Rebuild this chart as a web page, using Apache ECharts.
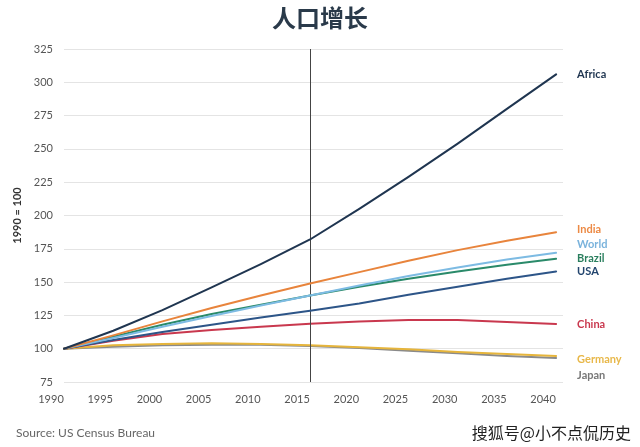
<!DOCTYPE html>
<html>
<head>
<meta charset="utf-8">
<script src="https://cdn.jsdelivr.net/npm/echarts@6/dist/echarts.min.js"></script>
<style>html,body{margin:0;padding:0;background:#fff}#c{width:640px;height:447px}</style>
</head>
<body>
<div id="c"></div>
<script>
const years = [1990, 1995, 2000, 2005, 2010, 2015, 2020, 2025, 2030, 2035, 2040];
const yTicks = [75, 100, 125, 150, 175, 200, 225, 250, 275, 300, 325];
const africa  = [100, 113.5, 129, 146, 163.5, 182, 205, 229, 254, 280, 306];
const india   = [100, 110, 120.5, 130.5, 140, 149, 157.5, 166, 174, 181, 187.5];
const world   = [100, 108, 116.5, 124.5, 132.5, 140, 147.5, 154.5, 161, 167, 172];
const brazil  = [100, 109, 118, 126, 133, 140, 146.5, 152.5, 158, 163, 167.5];
const usa     = [100, 106.5, 112.5, 118, 123.5, 128.5, 134, 140.5, 146.5, 152.5, 158];
const china   = [100, 106, 111, 114, 116.5, 118.8, 120.5, 121.5, 121.5, 120, 118.5];
const germany = [100, 102.5, 103.5, 104, 103.5, 102.5, 101, 99.5, 97.5, 96, 94.5];
const japan   = [100, 101.5, 102.5, 103, 103, 102, 100.5, 98.5, 96.5, 94.5, 93];
const markYear = 2015;

const seriesDefs = [
  {name: 'Japan', data: japan, color: '#8a8a8a', label: '#777777', off: [16, 17]},
  {name: 'Germany', data: germany, color: '#e6b53c', label: '#e8b84a', off: [16, 3]},
  {name: 'China', data: china, color: '#c9384e', label: '#c9384e', off: [16, 0]},
  {name: 'USA', data: usa, color: '#2d5588', label: '#23456e', off: [16, 0]},
  {name: 'Brazil', data: brazil, color: '#2a8a6a', label: '#2a7f5e', off: [16, 0]},
  {name: 'World', data: world, color: '#7dbbe3', label: '#7ab3dc', off: [16, -8]},
  {name: 'India', data: india, color: '#e8843c', label: '#ec8a45', off: [16, -3]},
  {name: 'Africa', data: africa, color: '#1f3550', label: '#1f3550', off: [16, 0]}
];

const chart = echarts.init(document.getElementById('c'), null, {renderer: 'canvas'});
const series = seriesDefs.map((s, i) => ({
  name: s.name,
  type: 'line',
  data: years.map((y, k) => [y, s.data[k]]),
  symbol: 'none',
  smooth: false,
  lineStyle: {color: s.color, width: 2, join: 'round', cap: 'round'},
  itemStyle: {color: s.color},
  z: 2 + i,
  endLabel: {
    show: true,
    formatter: s.name,
    color: s.label,
    fontWeight: 'bold',
    fontSize: 11,
    fontFamily: 'Lato, "Open Sans", sans-serif',
    offset: s.off,
    distance: 5
  },
  markLine: i === 0 ? {
    silent: true,
    symbol: 'none',
    label: {show: false},
    lineStyle: {color: '#444', width: 1, type: 'solid'},
    data: [{xAxis: markYear}]
  } : undefined
}));

chart.setOption({
  animation: false,
  backgroundColor: '#fff',
  title: {
    text: '人口增长',
    left: 'center',
    top: 1,
    textStyle: {fontSize: 24, fontWeight: 'bold', color: '#2a3a4a', fontFamily: '"Noto Sans CJK SC", sans-serif'}
  },
  grid: {left: 64, right: 77, top: 49, bottom: 65, containLabel: false},
  xAxis: {
    type: 'value',
    min: 1990,
    max: 2040.7,
    interval: 5,
    axisLine: {show: false},
    axisTick: {show: false},
    splitLine: {show: false},
    axisLabel: {
      color: '#555',
      fontSize: 11,
      fontFamily: 'Lato, "Open Sans", sans-serif',
      margin: 12,
      formatter: v => (v % 5 === 0 ? String(v) : ''),
      padding: [0, 26, 0, 0]
    }
  },
  yAxis: {
    type: 'value',
    min: 75,
    max: 325,
    interval: 25,
    name: '1990 = 100',
    nameLocation: 'middle',
    nameGap: 26,
    nameRotate: 90,
    nameTextStyle: {color: '#333', fontSize: 11, fontWeight: 'bold', fontFamily: 'Lato, "Open Sans", sans-serif', padding: [0, 0, 8, 0]},
    axisLine: {show: false},
    axisTick: {show: false},
    splitLine: {lineStyle: {color: '#e4e4e4', width: 1}},
    axisLabel: {color: '#555', fontSize: 11, fontFamily: 'Lato, "Open Sans", sans-serif', margin: 11}
  },
  series: series,
  graphic: [
    {type: 'text', left: 16, top: 427, style: {text: 'Source: US Census Bureau', fill: '#666', fontSize: 12, fontFamily: 'Lato, "Open Sans", sans-serif'}},
    {type: 'text', right: 8, top: 424, style: {text: '搜狐号@小不点侃历史', fill: '#222', fontSize: 16, fontFamily: '"Noto Sans CJK SC", sans-serif', stroke: '#fff', lineWidth: 2}}
  ]
});
</script>
</body>
</html>
